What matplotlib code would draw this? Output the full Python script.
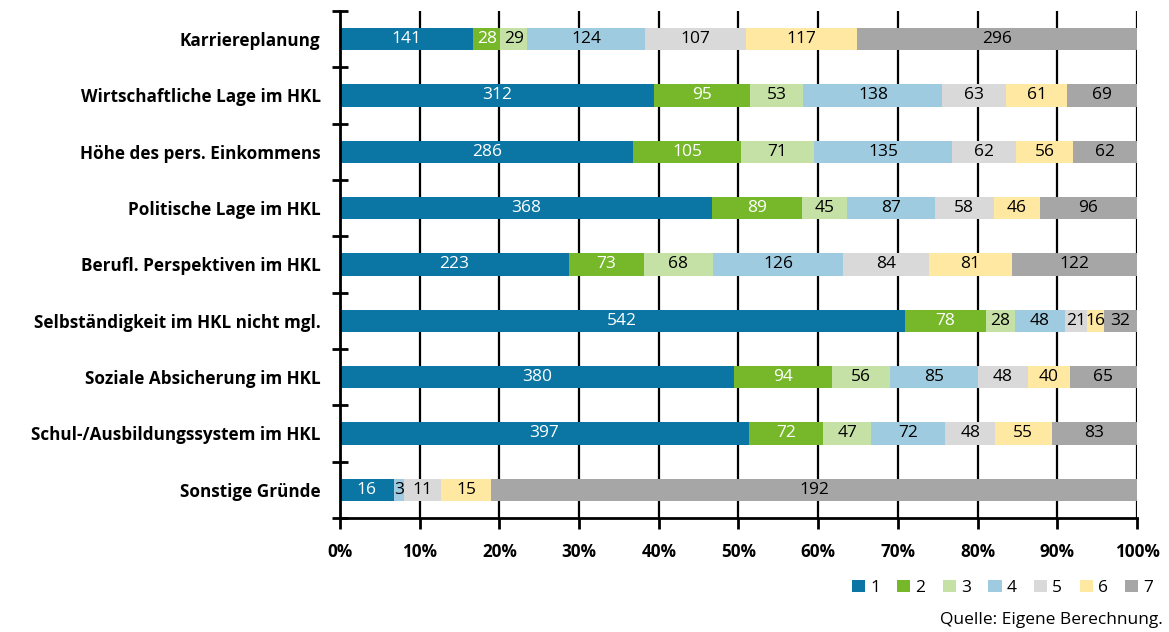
import numpy as np
import matplotlib
matplotlib.use("Agg")
import matplotlib.pyplot as plt
from matplotlib.ticker import FixedLocator, PercentFormatter

plt.rcParams['font.family'] = ['Open Sans', 'DejaVu Sans']

categories = [
    "Karriereplanung",
    "Wirtschaftliche Lage im HKL",
    "Höhe des pers. Einkommens",
    "Politische Lage im HKL",
    "Berufl. Perspektiven im HKL",
    "Selbständigkeit im HKL nicht mgl.",
    "Soziale Absicherung im HKL",
    "Schul-/Ausbildungssystem im HKL",
    "Sonstige Gründe",
]
series_names = ["1", "2", "3", "4", "5", "6", "7"]
counts = {
    "1": [141, 312, 286, 368, 223, 542, 380, 397, 16],
    "2": [28, 95, 105, 89, 73, 78, 94, 72, 0],
    "3": [29, 53, 71, 45, 68, 28, 56, 47, 0],
    "4": [124, 138, 135, 87, 126, 48, 85, 72, 3],
    "5": [107, 63, 62, 58, 84, 21, 48, 48, 11],
    "6": [117, 61, 56, 46, 81, 16, 40, 55, 15],
    "7": [296, 69, 62, 96, 122, 32, 65, 83, 192],
}
colors = ["#0b76a4", "#77b82a", "#c6e1a6", "#9ecbdf", "#d9d9d9", "#ffe8a1", "#a6a6a6"]
text_colors = ["white", "white", "black", "black", "black", "black", "black"]

data = np.array([counts[s] for s in series_names], dtype=float)
totals = data.sum(axis=0)
shares = data / totals * 100

fig = plt.figure(figsize=(11.69, 6.32), dpi=100)
ax = fig.add_axes([0.2908, 0.1804, 0.6818, 0.8022])

y = np.arange(len(categories))
left = np.zeros(len(categories))
for i, name in enumerate(series_names):
    bars = ax.barh(y, shares[i], left=left, height=0.4, color=colors[i],
                   label=name, zorder=3)
    for j, b in enumerate(bars):
        v = int(data[i, j])
        if v == 0:
            continue
        ax.text(left[j] + shares[i, j] / 2, y[j], str(v), ha="center",
                va="center", color=text_colors[i], fontsize=12.5, zorder=4)
    left += shares[i]

ax.set_xlim(0, 100)
ax.set_ylim(len(categories) - 0.5, -0.5)
ax.xaxis.set_major_locator(FixedLocator(np.arange(0, 101, 10)))
ax.xaxis.set_major_formatter(PercentFormatter(decimals=0))
ax.grid(axis="x", color="black", linewidth=1.6, zorder=0)

ax.set_yticks(y)
ax.set_yticklabels(categories, fontsize=12.3, fontweight="bold")
ax.set_yticks(np.arange(-0.5, len(categories)), minor=True)
ax.tick_params(axis="y", which="major", length=0, pad=14)
ax.tick_params(axis="y", which="minor", direction="inout", length=12, width=2)
ax.tick_params(axis="x", direction="out", length=8, width=2, pad=10)
for lbl in ax.get_xticklabels():
    lbl.set_fontweight("bold")
    lbl.set_fontsize(12.3)

for side in ["top", "right"]:
    ax.spines[side].set_visible(False)
for side in ["left", "bottom"]:
    ax.spines[side].set_linewidth(2)
    ax.spines[side].set_zorder(5)

fig.legend(loc="center right", bbox_to_anchor=(1.0, 0.07), ncol=7,
           frameon=False, fontsize=12.5, handlelength=0.75, handleheight=0.75,
           handletextpad=0.3, columnspacing=1.0)
fig.text(0.995, 0.019, "Quelle: Eigene Berechnung.", ha="right", va="center",
         fontsize=12.5)

fig.savefig("out.png", dpi=100)
